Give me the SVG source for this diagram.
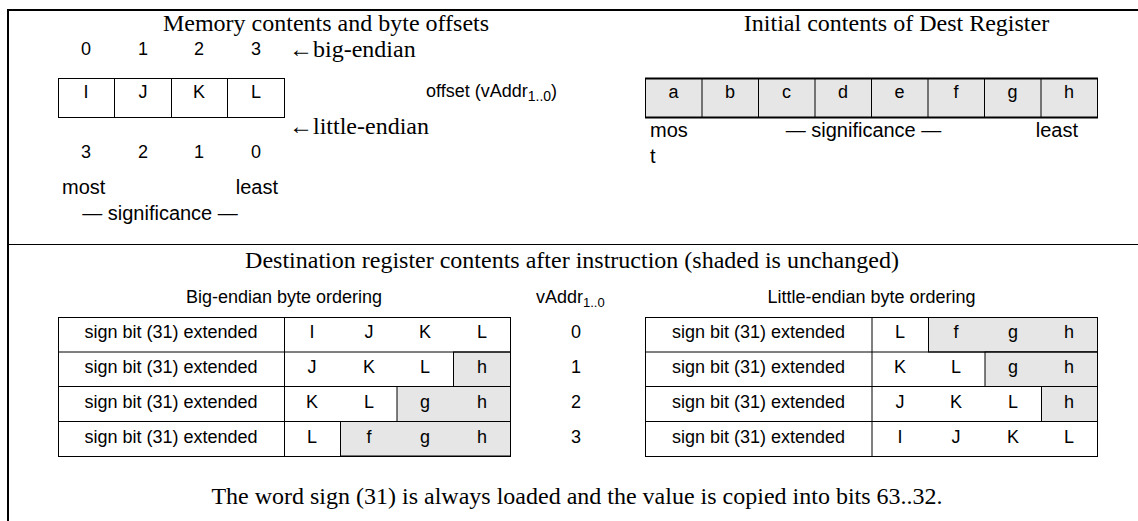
<svg xmlns="http://www.w3.org/2000/svg" width="1138" height="521" viewBox="0 0 1138 521">
<style>
.serif{font-family:"Liberation Serif","Times New Roman",serif;font-size:24px;fill:#000}
.sans{font-family:"Liberation Sans",Arial,sans-serif;font-size:18px;fill:#000}
.big{font-size:20px}
.c{text-anchor:middle}
.e{text-anchor:end}
.cell{fill:#fff;stroke:#000;stroke-width:1}
.sh{fill:#e6e6e6;stroke:#000;stroke-width:1}
.ln{stroke:#000;fill:none}
</style>
<rect width="1138" height="521" fill="#fff"/>
<g id="frame">
<line class="ln" x1="7" y1="10" x2="1138" y2="10" stroke-width="2"/>
<line class="ln" x1="8" y1="9" x2="8" y2="521" stroke-width="2"/>
<line class="ln" x1="8" y1="244.5" x2="1138" y2="244.5" stroke-width="1"/>
</g>
<g id="memory">
<text class="serif c" x="326" y="31">Memory contents and byte offsets</text>
<g class="sans c">
<text x="86" y="55">0</text><text x="143" y="55">1</text><text x="199" y="55">2</text><text x="256" y="55">3</text>
</g>
<text class="serif" x="289" y="57">←big-endian</text>
<rect class="cell" x="58.5" y="78.5" width="226" height="39"/>
<line class="ln" x1="114.5" y1="78.5" x2="114.5" y2="117.5"/>
<line class="ln" x1="171.5" y1="78.5" x2="171.5" y2="117.5"/>
<line class="ln" x1="227.5" y1="78.5" x2="227.5" y2="117.5"/>
<g class="sans c">
<text x="86" y="98">I</text><text x="143" y="98">J</text><text x="199" y="98">K</text><text x="256" y="98">L</text>
</g>
<text class="sans" x="426" y="97">offset (vAddr<tspan font-size="14" dy="4">1..0</tspan><tspan dy="-4">)</tspan></text>
<text class="serif" x="289" y="134">←little-endian</text>
<g class="sans c">
<text x="86" y="158">3</text><text x="143" y="158">2</text><text x="199" y="158">1</text><text x="256" y="158">0</text>
</g>
<text class="sans big" x="62" y="194">most</text>
<text class="sans big e" x="278" y="194">least</text>
<text class="sans big c" x="160" y="220">— significance —</text>
</g>
<g id="dest-initial">
<text class="serif c" x="896.5" y="31">Initial contents of Dest Register</text>
<rect class="sh" x="645.5" y="78.5" width="452" height="39"/>
<line class="ln" x1="645" y1="78.5" x2="1098" y2="78.5" stroke-width="2"/>
<line class="ln" x1="645" y1="117.5" x2="1098" y2="117.5" stroke-width="2"/>
<line class="ln" x1="702" y1="78.5" x2="702" y2="117.5"/>
<line class="ln" x1="758.5" y1="78.5" x2="758.5" y2="117.5"/>
<line class="ln" x1="815" y1="78.5" x2="815" y2="117.5"/>
<line class="ln" x1="871.5" y1="78.5" x2="871.5" y2="117.5"/>
<line class="ln" x1="928" y1="78.5" x2="928" y2="117.5"/>
<line class="ln" x1="984.5" y1="78.5" x2="984.5" y2="117.5"/>
<line class="ln" x1="1041" y1="78.5" x2="1041" y2="117.5"/>
<g class="sans c">
<text x="673.5" y="98">a</text><text x="730" y="98">b</text><text x="786.5" y="98">c</text><text x="843" y="98">d</text>
<text x="899.5" y="98">e</text><text x="956" y="98">f</text><text x="1012.5" y="98">g</text><text x="1069" y="98">h</text>
</g>
<text class="sans big" x="650" y="137">mos</text>
<text class="sans big" x="650" y="163">t</text>
<text class="sans big c" x="863.5" y="137">— significance —</text>
<text class="sans big e" x="1078" y="137">least</text>
</g>
<g id="dest-after">
<text class="serif c" x="572" y="268">Destination register contents after instruction (shaded is unchanged)</text>
<text class="sans c" x="284" y="303">Big-endian byte ordering</text>
<text class="sans" x="536" y="303">vAddr<tspan font-size="13" dy="4">1..0</tspan></text>
<text class="sans c" x="871.5" y="303">Little-endian byte ordering</text>
</g>
<g id="big-endian-table">
<rect class="cell" x="58.5" y="317.5" width="452" height="139"/>
<rect class="sh" x="453.5" y="352" width="57" height="34.5"/>
<rect class="sh" x="397" y="386.5" width="113.5" height="35"/>
<rect class="sh" x="340.5" y="421.5" width="170" height="34.5"/>
<line class="ln" x1="58.5" y1="352" x2="510.5" y2="352"/>
<line class="ln" x1="58.5" y1="386.5" x2="510.5" y2="386.5"/>
<line class="ln" x1="58.5" y1="421.5" x2="510.5" y2="421.5"/>
<line class="ln" x1="284.5" y1="317.5" x2="284.5" y2="456.5"/>
<g class="sans c">
<text x="171" y="338">sign bit (31) extended</text>
<text x="171" y="373">sign bit (31) extended</text>
<text x="171" y="408">sign bit (31) extended</text>
<text x="171" y="443">sign bit (31) extended</text>
<text x="312" y="338">I</text><text x="369" y="338">J</text><text x="425" y="338">K</text><text x="482" y="338">L</text>
<text x="312" y="373">J</text><text x="369" y="373">K</text><text x="425" y="373">L</text><text x="482" y="373">h</text>
<text x="312" y="408">K</text><text x="369" y="408">L</text><text x="425" y="408">g</text><text x="482" y="408">h</text>
<text x="312" y="443">L</text><text x="369" y="443">f</text><text x="425" y="443">g</text><text x="482" y="443">h</text>
</g>
</g>
<g id="vaddr" class="sans c">
<text x="576" y="338">0</text><text x="576" y="373">1</text><text x="576" y="408">2</text><text x="576" y="443">3</text>
</g>
<g id="little-endian-table">
<rect class="cell" x="645.5" y="317.5" width="452" height="139"/>
<rect class="sh" x="928.5" y="317.5" width="169" height="34.5"/>
<rect class="sh" x="985" y="352" width="112.5" height="34.5"/>
<rect class="sh" x="1041.5" y="386.5" width="56" height="35"/>
<line class="ln" x1="645.5" y1="352" x2="1097.5" y2="352"/>
<line class="ln" x1="645.5" y1="386.5" x2="1097.5" y2="386.5"/>
<line class="ln" x1="645.5" y1="421.5" x2="1097.5" y2="421.5"/>
<line class="ln" x1="872" y1="317.5" x2="872" y2="456.5"/>
<g class="sans c">
<text x="758.5" y="338">sign bit (31) extended</text>
<text x="758.5" y="373">sign bit (31) extended</text>
<text x="758.5" y="408">sign bit (31) extended</text>
<text x="758.5" y="443">sign bit (31) extended</text>
<text x="900" y="338">L</text><text x="956" y="338">f</text><text x="1013" y="338">g</text><text x="1069" y="338">h</text>
<text x="900" y="373">K</text><text x="956" y="373">L</text><text x="1013" y="373">g</text><text x="1069" y="373">h</text>
<text x="900" y="408">J</text><text x="956" y="408">K</text><text x="1013" y="408">L</text><text x="1069" y="408">h</text>
<text x="900" y="443">I</text><text x="956" y="443">J</text><text x="1013" y="443">K</text><text x="1069" y="443">L</text>
</g>
</g>
<text id="note" class="serif c" x="577" y="504">The word sign (31) is always loaded and the value is copied into bits 63..32.</text>
</svg>
